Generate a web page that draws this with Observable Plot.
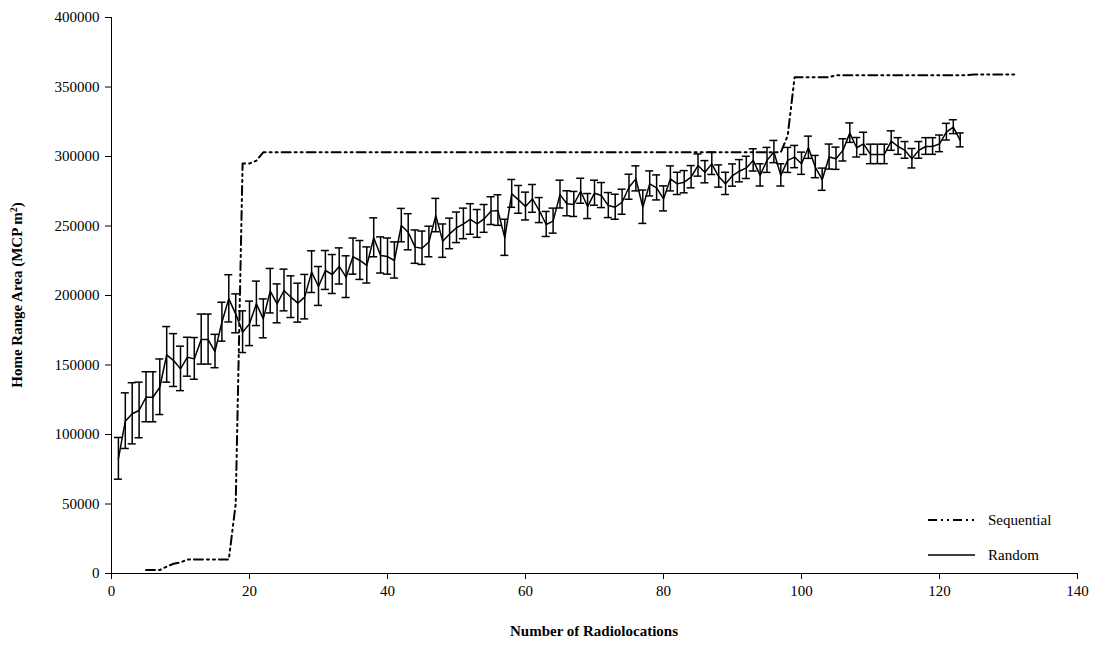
<!DOCTYPE html>
<html><head>
<script src="https://cdn.jsdelivr.net/npm/d3@7"></script>
<script src="https://cdn.jsdelivr.net/npm/@observablehq/plot@0.6"></script>
<style>body{margin:0;background:#fff;font-family:"Liberation Serif",serif}#c{position:relative;width:1101px;height:654px}</style>
</head><body><div id="c"></div>
<script>
const randomMean = [82.5,109.6,114.9,117.3,126.8,126.8,134.0,157.3,153.2,147.2,155.6,154.4,168.3,168.3,159.7,180.8,197.6,186.8,173.6,179.6,194.0,183.2,203.1,194.0,203.6,198.8,194.5,198.8,216.8,206.5,218.0,215.1,220.9,213.2,228.0,225.2,221.6,241.5,228.8,228.0,225.2,250.3,245.5,234.8,234.0,238.5,257.5,239.1,244.3,248.7,251.5,254.7,251.5,255.1,260.7,261.1,241.5,273.1,268.8,264.0,269.5,261.1,251.1,253.5,272.6,266.0,265.5,275.0,264.0,273.6,271.9,264.7,263.5,267.1,277.9,283.9,263.5,280.3,277.4,269.5,283.9,280.3,281.5,285.1,293.5,288.7,294.7,285.6,280.3,286.3,289.4,291.8,297.2,286.4,297.2,303.2,286.4,297.2,299.6,294.8,306.3,292.4,283.3,299.6,298.4,304.4,316.8,306.3,309.1,301.5,301.5,301.5,311.1,307.2,304.4,298.4,304.4,307.2,307.2,309.1,317.5,321.1,311.6];
const randomErr = [15,20,22,20,18,18,20,20,19,16,14,15,18,18,12,14,17,14,15,16,16,14,16,14,15,15,14,16,15,14,14,14,13,15,13,14,13,14,13,13,13,12,13,12,12,11,12,12,11,11,11,11,10,10,10,11,13,10,10,10,10,9,9,9,10,9,9,9,9,9,9,9,9,9,9,9,12,9,9,9,9,8,8,8,8,8,8,8,8,8,8,8,8,8,9,8,8,9,8,8,8,8,8,9,8,8,7,7,8,7,7,7,7,6,6,7,6,6,6,6,6,5,5];
const seqX = [5,6,7,8,9,10,11,12,13,14,15,16,17,18,19,20,21,22,97,98,99,104,105,124,125,131];
const seqY = [2.5,2.5,2.5,5,7,8,10,10,10,10,10,10,10,50,295,295,297,303,303,315,357,357,358.5,358.5,359,359];
const xTicks = [0,20,40,60,80,100,120,140];
const yTicks = [0,50000,100000,150000,200000,250000,300000,350000,400000];

const rnd = randomMean.map((v,i)=>({x:i+1,y:v*1000,lo:(v-randomErr[i])*1000,hi:(v+randomErr[i])*1000}));
const seq = seqX.map((x,i)=>({x,y:seqY[i]*1000}));
const fmt = d=>String(d);

const plot = Plot.plot({
  width:1101,height:654,marginLeft:111,marginRight:24,marginTop:17,marginBottom:81,
  style:{fontFamily:"Liberation Serif, serif",fontSize:"15px",color:"#000",background:"#fff"},
  x:{type:"linear",domain:[0,140]},
  y:{type:"linear",domain:[0,400000]},
  marks:[
    Plot.ruleY([0],{stroke:"#000"}),
    Plot.ruleX([0],{stroke:"#000"}),
    Plot.axisX({ticks:xTicks,tickFormat:fmt,tickSize:6,tickPadding:6,fontSize:15,label:null}),
    Plot.axisY({ticks:yTicks,tickFormat:fmt,tickSize:6,tickPadding:6,fontSize:15,label:null}),
    Plot.line(seq,{x:"x",y:"y",stroke:"#000",strokeWidth:2,strokeDasharray:"9,4,2,4,2,4"}),
    Plot.ruleX(rnd,{x:"x",y1:"lo",y2:"hi",stroke:"#000",strokeWidth:1.5}),
    Plot.line(rnd,{x:"x",y:"y",stroke:"#000",strokeWidth:1.5})
  ]
});
const c = document.getElementById("c");
c.appendChild(plot);
const s = d3.select(plot);
const xs = plot.scale("x"), ys = plot.scale("y");
const g = s.append("g").attr("stroke","#000").attr("stroke-width",1.5);
rnd.forEach(d=>{
  [d.lo,d.hi].forEach(v=>{
    g.append("line").attr("x1",xs.apply(d.x)-4).attr("x2",xs.apply(d.x)+4).attr("y1",ys.apply(v)).attr("y2",ys.apply(v));
  });
});
const lg = s.append("g").attr("font-family","Liberation Serif, serif").attr("font-size",15).attr("text-anchor","start");
lg.append("line").attr("x1",928).attr("x2",975).attr("y1",520).attr("y2",520).attr("stroke","#000").attr("stroke-width",2).attr("stroke-dasharray","9,4,2,4,2,4");
lg.append("text").attr("x",988).attr("y",525).text("Sequential");
lg.append("line").attr("x1",928).attr("x2",975).attr("y1",555).attr("y2",555).attr("stroke","#000").attr("stroke-width",1.5);
lg.append("text").attr("x",988).attr("y",560).text("Random");
s.append("text").attr("x",594).attr("y",636).attr("text-anchor","middle").attr("font-weight","bold").attr("font-size",15).attr("font-family","Liberation Serif, serif").text("Number of Radiolocations");
const yl = s.append("text").attr("transform","translate(22,295) rotate(-90)").attr("text-anchor","middle").attr("font-weight","bold").attr("font-size",15).attr("font-family","Liberation Serif, serif");
yl.append("tspan").text("Home Range Area (MCP m");
yl.append("tspan").attr("baseline-shift","super").attr("font-size",10).text("2");
yl.append("tspan").text(")");
</script></body></html>
